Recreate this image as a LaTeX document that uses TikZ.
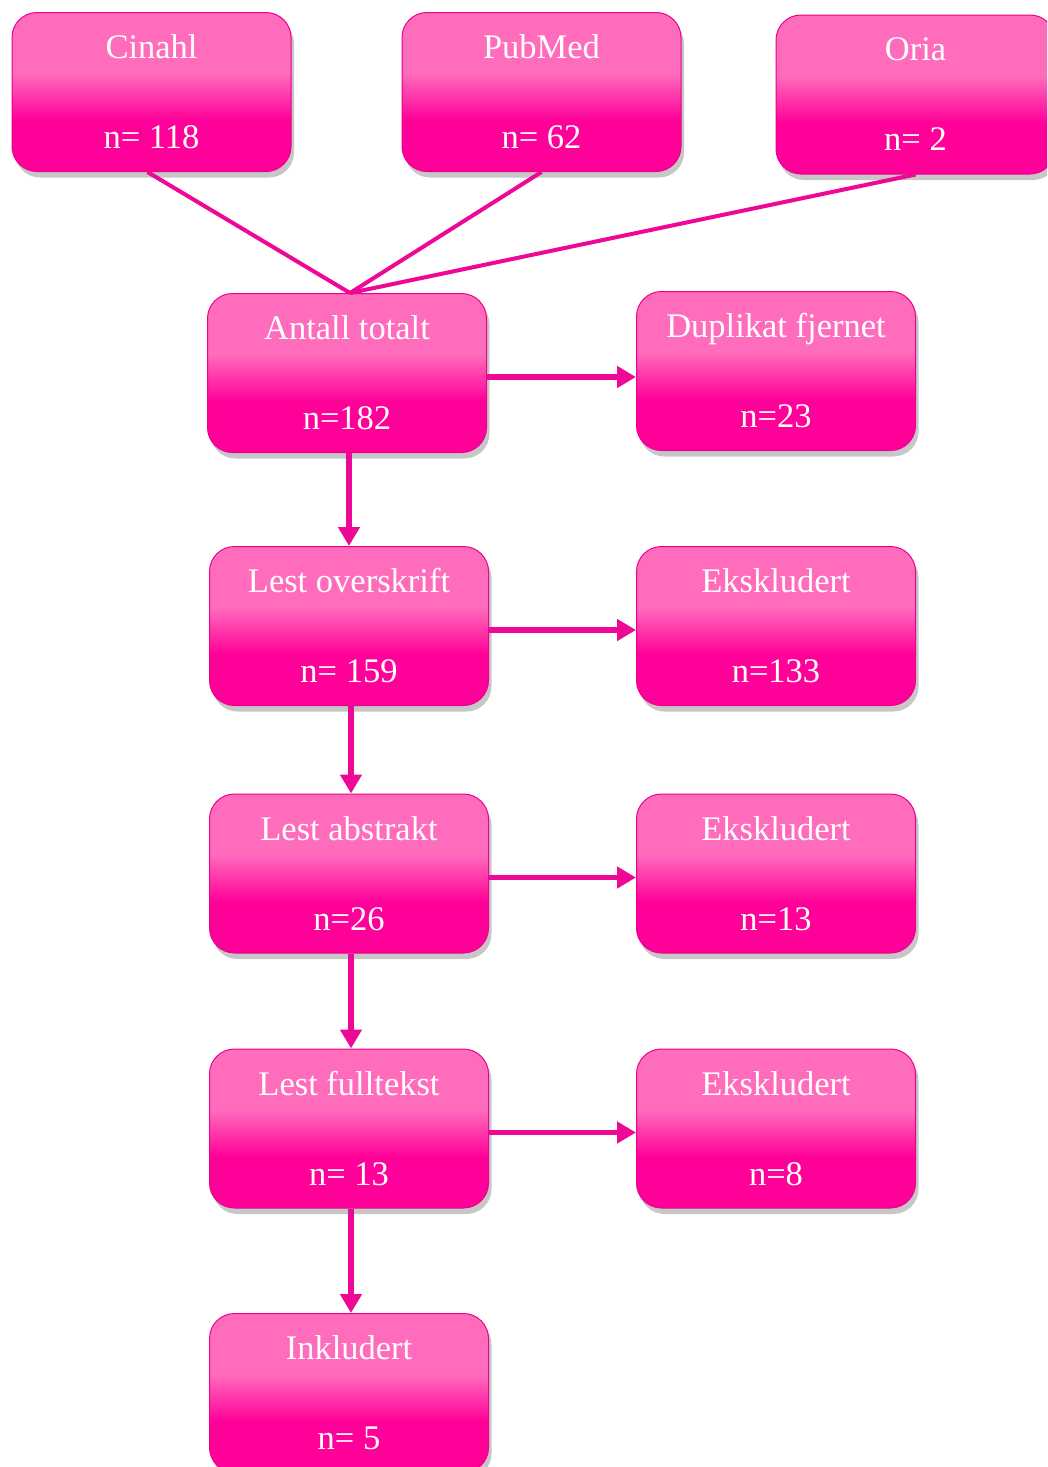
\documentclass[tikz,border=0pt]{standalone}
\usepackage{fontspec}
\setmainfont{Liberation Serif}
\usetikzlibrary{shadows,arrows.meta}
\definecolor{pkL}{RGB}{255,108,188}
\definecolor{pkD}{RGB}{255,0,152}
\definecolor{pkLine}{RGB}{238,8,150}
\definecolor{pkBorder}{RGB}{235,0,140}
\pgfdeclareverticalshading{boxshade}{100bp}{color(0bp)=(pkD); color(41bp)=(pkD); color(56bp)=(pkL); color(100bp)=(pkL)}
\tikzset{
  fbox/.style={draw=pkBorder, line width=1pt, rounded corners=25pt, shading=boxshade,
    minimum width=279pt, minimum height=159pt, inner sep=0pt, align=center,
    text=white, font=\fontsize{34.5}{40}\selectfont,
    drop shadow={shadow xshift=3pt, shadow yshift=-6pt, fill=black, opacity=0.22}},
  feed/.style={draw=pkLine, line width=4pt},
  arr/.style={draw=pkLine, line width=5.5pt, -{Triangle[length=19pt,width=21pt]}}
}
\newcommand{\bx}[2]{#1\\[50pt]#2}
\begin{document}
\begin{tikzpicture}[x=1pt,y=-1pt]
\useasboundingbox (0,0) rectangle (1047,1467);
\clip (0,0) rectangle (1047,1467);
\node[fbox] (cin) at (151.5,92) {\bx{Cinahl}{n= 118}};
\node[fbox] (pub) at (541.5,92) {\bx{PubMed}{n= 62}};
\node[fbox] (ori) at (915.5,94.5) {\bx{Oria}{n= 2}};
\node[fbox] (tot) at (347,373) {\bx{Antall totalt}{n=182}};
\node[fbox] (dup) at (776,371) {\bx{Duplikat fjernet}{n=23}};
\node[fbox] (ovr) at (349,626) {\bx{Lest overskrift}{n= 159}};
\node[fbox] (ex1) at (776,626) {\bx{Ekskludert}{n=133}};
\node[fbox] (abs) at (349,873.5) {\bx{Lest abstrakt}{n=26}};
\node[fbox] (ex2) at (776,873.5) {\bx{Ekskludert}{n=13}};
\node[fbox] (ful) at (349,1128.5) {\bx{Lest fulltekst}{n= 13}};
\node[fbox] (ex3) at (776,1128.5) {\bx{Ekskludert}{n=8}};
\node[fbox] (ink) at (349,1393) {\bx{Inkludert}{n= 5}};
% feeds
\coordinate (meet) at ([xshift=3pt]tot.north);
\draw[feed] ([xshift=-4pt]cin.south) -- (meet);
\draw[feed] (pub.south) -- (meet);
\draw[feed] (ori.south) -- (meet);
% horizontal arrows
\foreach \a/\b in {tot/dup, ovr/ex1, abs/ex2, ful/ex3}{
  \coordinate (\a-r) at ([yshift=-4pt]\a.east);
  \draw[arr] (\a-r) -- (\a-r -| \b.west);
}
% vertical arrows
\foreach \a/\b in {tot/ovr, ovr/abs, abs/ful, ful/ink}{
  \draw[arr] ([xshift=2pt]\a.south) -- ([xshift=2pt]\a.south |- \b.north);
}
\end{tikzpicture}
\end{document}
